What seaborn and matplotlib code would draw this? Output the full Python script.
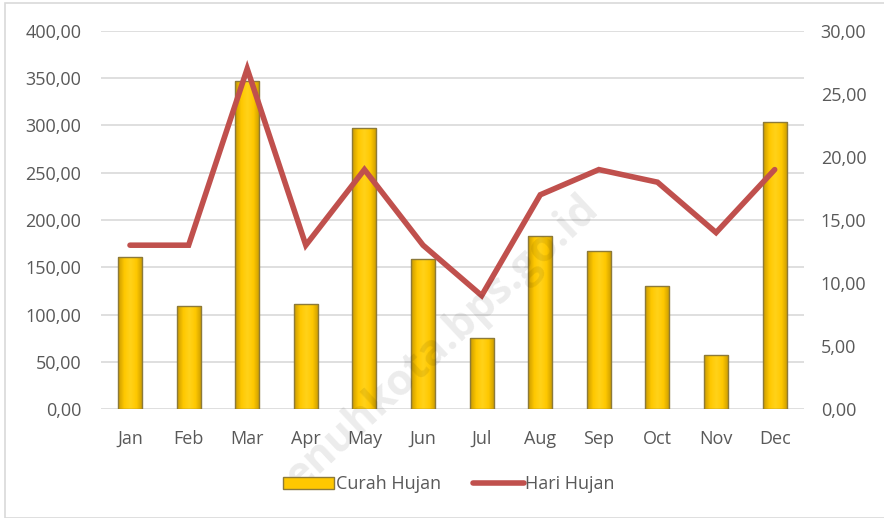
import matplotlib
matplotlib.use("Agg")
import matplotlib.pyplot as plt
import seaborn as sns
import pandas as pd
import numpy as np
from matplotlib.ticker import FuncFormatter, MultipleLocator
from matplotlib.patches import Rectangle, Patch
from matplotlib.lines import Line2D
from matplotlib.colors import LinearSegmentedColormap

months = ["Jan", "Feb", "Mar", "Apr", "May", "Jun", "Jul", "Aug", "Sep", "Oct", "Nov", "Dec"]
curah_hujan = [161, 109, 347, 111, 297, 159, 75, 183, 167, 130, 57, 304]
hari_hujan = [13, 13, 27, 13, 19, 13, 9, 17, 19, 18, 14, 19]

sns.set_theme(style="white")
plt.rcParams['font.family'] = ['Open Sans', 'DejaVu Sans']

df = pd.DataFrame({"Bulan": months, "Curah Hujan": curah_hujan, "Hari Hujan": hari_hujan})

fig = plt.figure(figsize=(8.84, 5.18), dpi=100)
ax = fig.add_axes([0.1139, 0.2104, 0.7956, 0.7298])

text_col = "#595959"
fs = 13
sns.barplot(data=df, x="Bulan", y="Curah Hujan", ax=ax, color="#FFC000",
            width=0.41, edgecolor="#8C7A3A", linewidth=1.0, saturation=1, zorder=2)
ax.set_ylim(0, 400)
ax.set_xlim(-0.5, 11.5)

# gold gradient fill clipped to each bar
cmap = LinearSegmentedColormap.from_list("gold", ["#C99A00", "#FFC800", "#FFD21A", "#FFC800", "#C99A00"])
grad = np.linspace(0, 1, 64).reshape(1, -1)
for p in list(ax.patches):
    x0, y0 = p.get_x(), p.get_y()
    w, h = p.get_width(), p.get_height()
    im = ax.imshow(grad, cmap=cmap, extent=[x0, x0 + w, y0, y0 + h], aspect="auto",
                   zorder=2.5, interpolation="bicubic")
    im.set_clip_path(p)
    p.set_zorder(2.6)
    p.set_facecolor("none")
ax.set_xlim(-0.5, 11.5)
ax.set_ylim(0, 400)

ax.yaxis.set_major_locator(MultipleLocator(50))
fmt = FuncFormatter(lambda v, p: f"{v:.2f}".replace(".", ","))
ax.yaxis.set_major_formatter(fmt)
ax.grid(axis="y", color="#D9D9D9", linewidth=1.2, zorder=0)
ax.set_axisbelow(True)
for s in ax.spines.values():
    s.set_visible(False)
ax.set_xlabel("")
ax.set_ylabel("")
ax.tick_params(axis="both", length=0, labelsize=fs, labelcolor=text_col)
ax.tick_params(axis="x", pad=15)
ax.tick_params(axis="y", pad=14)

ax2 = ax.twinx()
sns.lineplot(x=list(range(len(months))), y=hari_hujan, ax=ax2, color="#C0504D",
             linewidth=4, solid_capstyle="round", solid_joinstyle="miter", zorder=3)
ax2.set_ylim(0, 30)
ax2.yaxis.set_major_locator(MultipleLocator(5))
ax2.yaxis.set_major_formatter(fmt)
for s in ax2.spines.values():
    s.set_visible(False)
ax2.tick_params(axis="y", length=0, labelsize=fs, labelcolor=text_col, pad=12)
ax2.set_ylabel("")
ax2.set_xlim(-0.5, 11.5)

# watermark
fig.text(592 / 884, 1 - 203 / 518, "enuhkota.bps.go.id", rotation=43, fontsize=31, color="#000000",
         alpha=0.08, ha="right", va="center", rotation_mode="anchor", fontweight="bold")

handles = [Patch(facecolor="#FFC800", edgecolor="#8C7A3A", linewidth=1.0),
           Line2D([0], [0], color="#C0504D", linewidth=4, solid_capstyle="round")]
fig.legend(handles, ["Curah Hujan", "Hari Hujan"], loc="center", bbox_to_anchor=(0.508, 0.065),
           ncol=2, frameon=False, fontsize=fs, labelcolor=text_col, handlelength=2.8,
           handletextpad=0.1, columnspacing=1.8, handleheight=0.7)

fig.patches.append(Rectangle((5 / 884, 0), 1, 1 - 3 / 518, transform=fig.transFigure,
                             fill=False, edgecolor="#D9D9D9", linewidth=1.2))

fig.savefig("out.png", dpi=100)
